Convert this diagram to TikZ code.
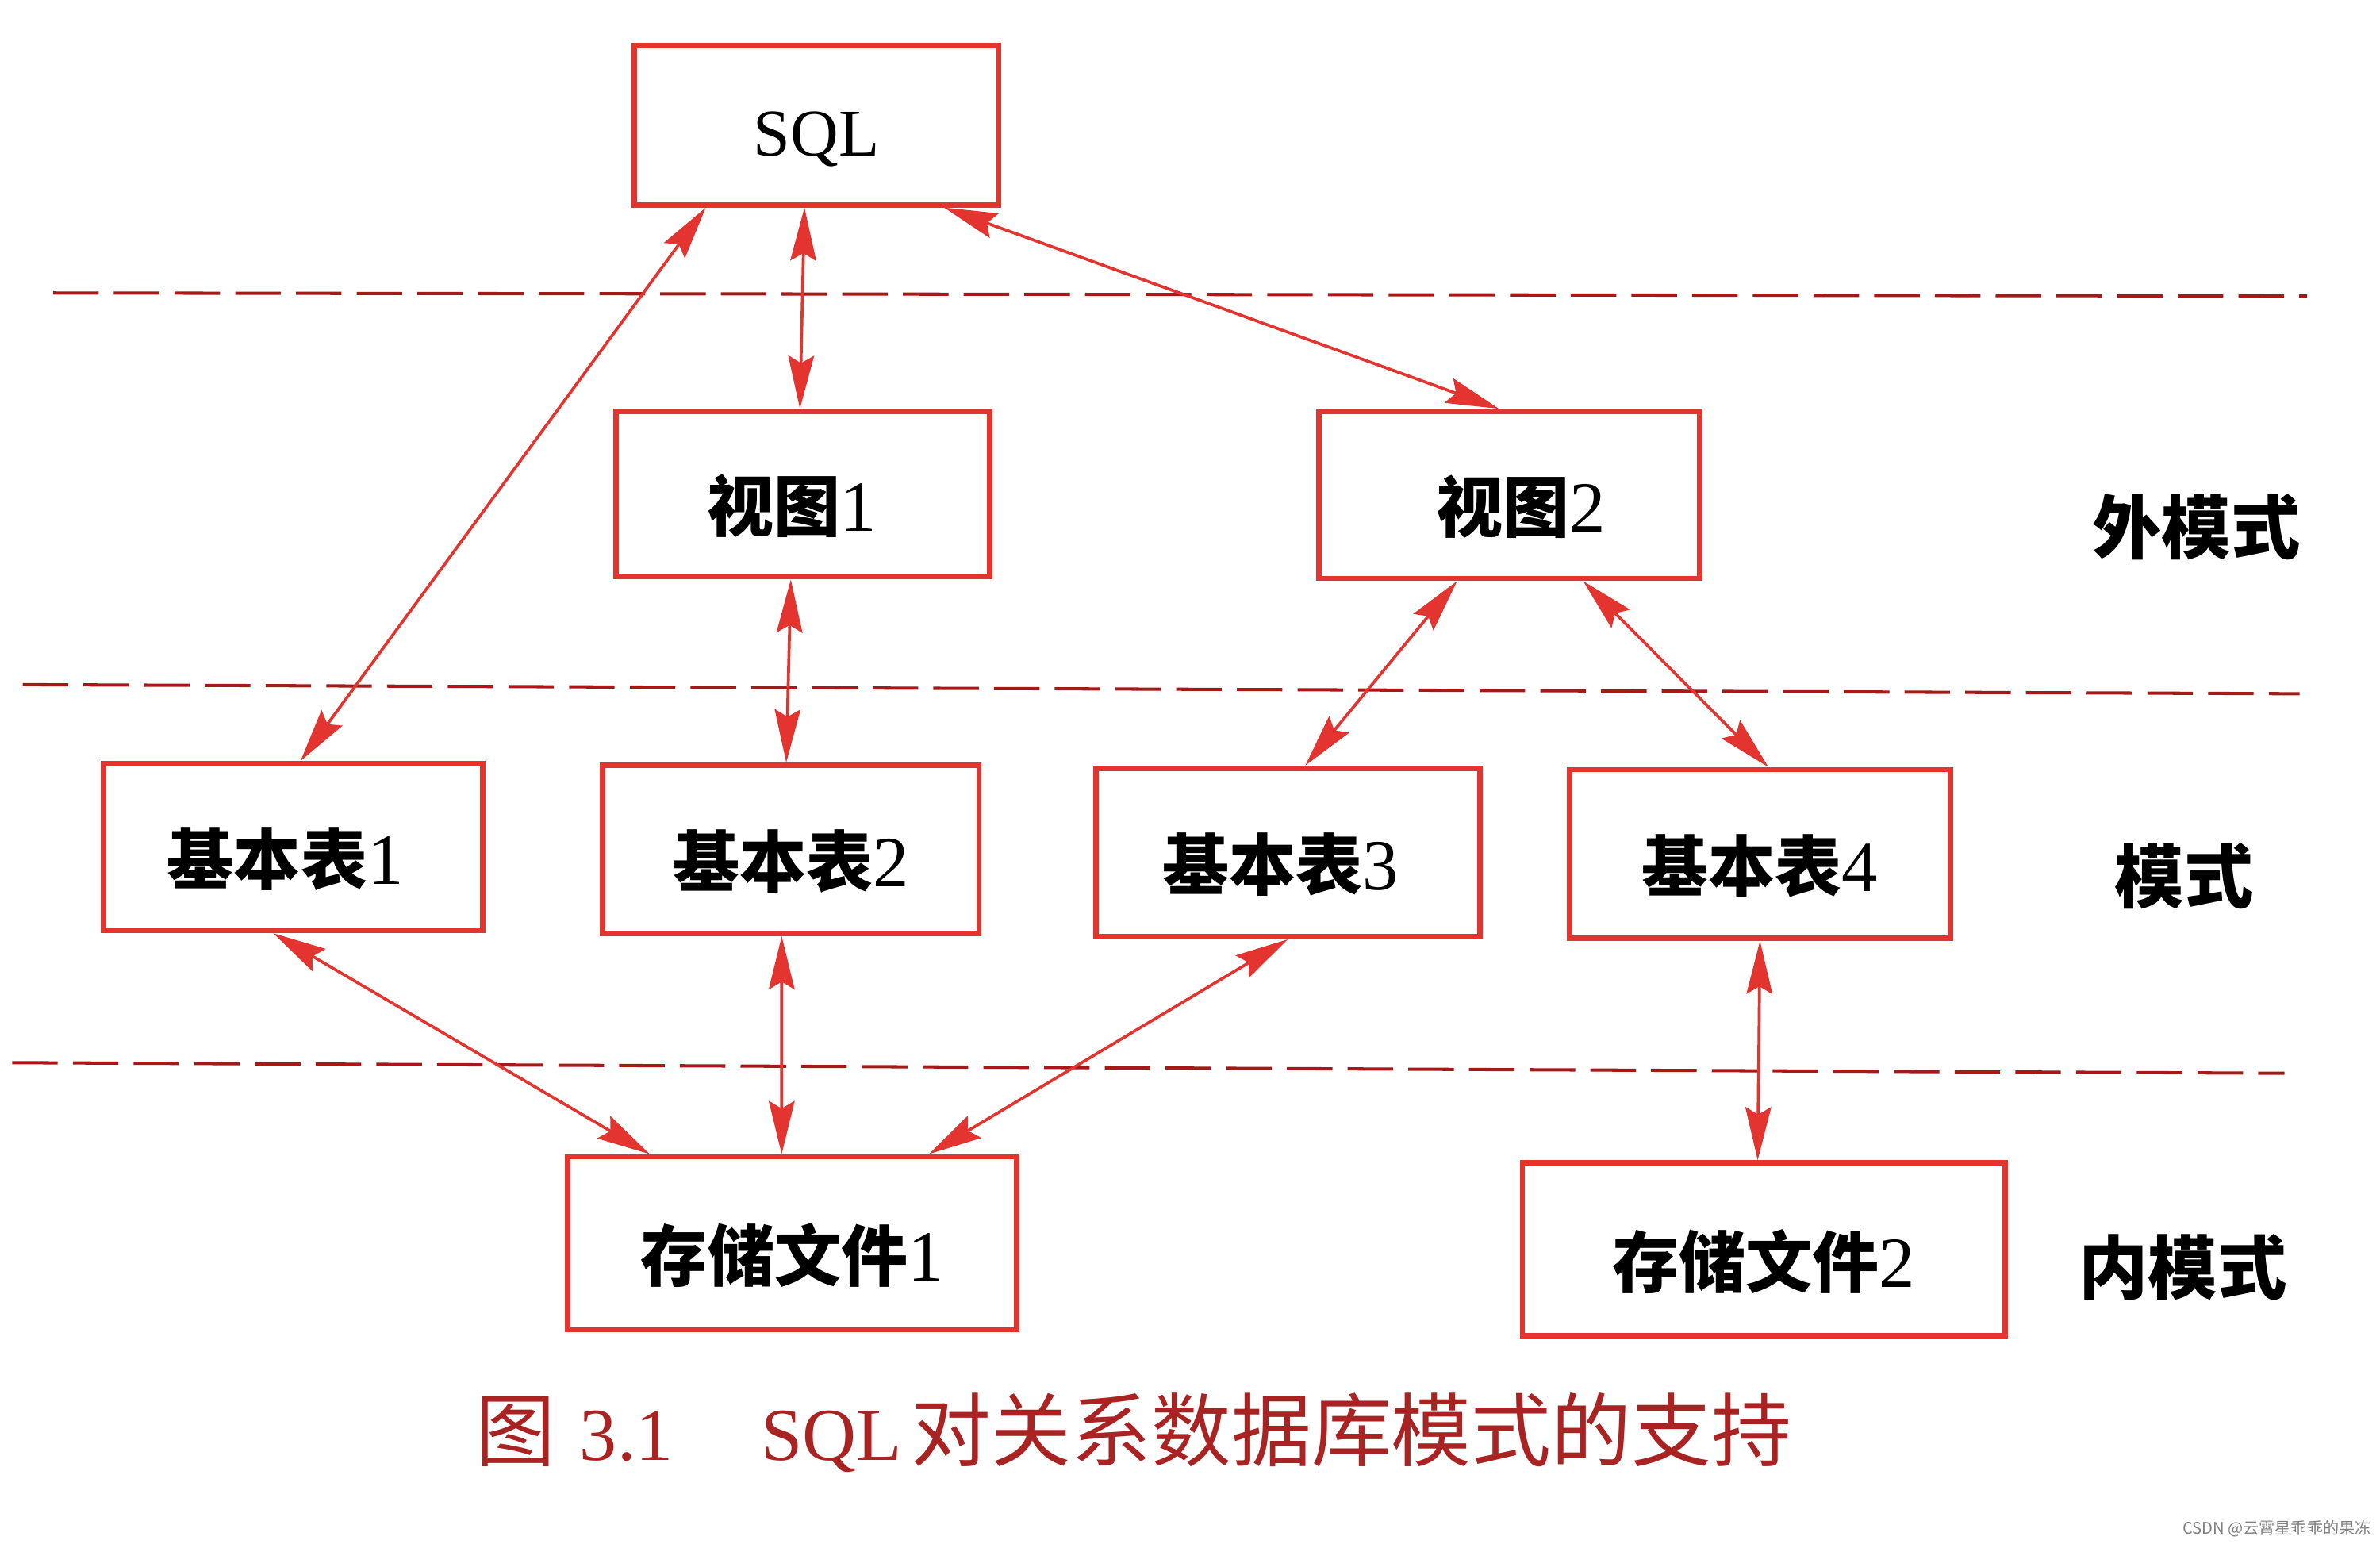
\documentclass[tikz,border=0pt]{standalone}
\usepackage{fontspec}
\setmainfont{Liberation Serif}
\newfontfamily\cjk{Noto Sans CJK SC}
\usetikzlibrary{arrows.meta}
\definecolor{boxred}{RGB}{228,52,48}
\definecolor{dashred}{RGB}{165,25,25}
\definecolor{capred}{RGB}{170,35,35}
\newcommand{\cj}[1]{{\cjk\bfseries\fontsize{25}{30}\selectfont #1}}
\newcommand{\lt}[1]{{\fontsize{27}{30}\selectfont #1}}
\newcommand{\dn}[1]{\raisebox{-0.16cm}[\height][\depth]{#1}}
\begin{document}
\begin{tikzpicture}[x=0.02cm,y=-0.02cm,
  box/.style={draw=boxred, line width=2pt, fill=white, inner sep=0pt},
  lbl/.style={inner sep=0pt, font=\cjk\bfseries\fontsize{26}{30}\selectfont},
  arr/.style={draw=boxred, line width=1.1pt,
    {Stealth[length=7mm,width=3.4mm,inset=1mm]}-{Stealth[length=7mm,width=3.4mm,inset=1mm]}},
  dline/.style={draw=dashred, line width=1.2pt, dash pattern=on 0.6cm off 0.2cm}]
\useasboundingbox[fill=white] (0,0) rectangle (1568,1017);

% dashed layer separators
\draw[dline] (35,193) -- (1520,195);
\draw[dline] (15,451) -- (1515,457);
\draw[dline] (8,700) -- (1505,707);

% boxes
\node[box, minimum width=4.8cm, minimum height=2.1cm] (sql) at (538,82.5) {\raisebox{-0.18cm}[\height][\depth]{\fontsize{25}{28}\selectfont SQL}};
\node[box, minimum width=4.92cm, minimum height=2.18cm] (v1) at (529,325.5) {\dn{\hspace{-0.3cm}\cj{视图}\lt{1}}};
\node[box, minimum width=5.02cm, minimum height=2.2cm] (v2) at (994.5,326) {\dn{\hspace{0.3cm}\cj{视图}\lt{2}}};
\node[box, minimum width=5.0cm, minimum height=2.2cm] (b1) at (193,558) {\dn{\hspace{-0.2cm}\cj{基本表}\lt{1}}};
\node[box, minimum width=4.96cm, minimum height=2.22cm] (b2) at (521,559.5) {\dn{\cj{基本表}\lt{2}}};
\node[box, minimum width=5.06cm, minimum height=2.22cm] (b3) at (848.5,561.5) {\dn{\hspace{-0.2cm}\cj{基本表}\lt{3}}};
\node[box, minimum width=5.02cm, minimum height=2.22cm] (b4) at (1159.5,562.5) {\dn{\cj{基本表}\lt{4}}};
\node[box, minimum width=5.92cm, minimum height=2.28cm] (f1) at (522,819) {\dn{\cj{存储文件}\lt{1}}};
\node[box, minimum width=6.36cm, minimum height=2.28cm] (f2) at (1162,823) {\dn{\cj{存储文件}\lt{2}}};

% layer labels
\node[lbl] (lext) at (1447,347) {外模式};
\node[lbl] (lcon) at (1439,577) {模式};
\node[lbl] (lint) at (1438,835) {内模式};

% connectors
\draw[arr] ([xshift=-1.46cm]sql.south) -- ([xshift=0.1cm]b1.north);
\draw[arr] ([xshift=-0.16cm]sql.south) -- ([xshift=-0.04cm]v1.north);
\draw[arr] ([xshift=1.68cm]sql.south) -- ([xshift=-0.14cm]v2.north);
\draw[arr] ([xshift=-0.16cm]v1.south) -- ([xshift=-0.06cm]b2.north);
\draw[arr] ([xshift=-0.69cm]v2.south) -- ([xshift=0.23cm]b3.north);
\draw[arr] ([xshift=0.97cm]v2.south) -- ([xshift=0.11cm]b4.north);
\draw[arr] ([xshift=-0.26cm]b1.south) -- ([xshift=-1.88cm]f1.north);
\draw[arr] ([xshift=-0.12cm]b2.south) -- ([xshift=-0.14cm]f1.north);
\draw[arr] ([xshift=0cm]b3.south) -- ([xshift=1.8cm]f1.north);
\draw[arr] ([xshift=0cm]b4.south) -- ([xshift=-0.08cm]f2.north);

% caption
\node[anchor=base west, inner sep=0pt, text=capred] (cap) at (313,962)
  {{\cjk\fontsize{30}{34}\selectfont 图}\hspace{0.32cm}{\fontsize{28}{34}\selectfont 3.1}\hspace{1.16cm}{\fontsize{28}{34}\selectfont SQL}\hspace{0.12cm}{\cjk\fontsize{30}{34}\selectfont 对关系数据库模式的支持}};

% watermark
\node[inner sep=0pt, text=gray, font=\cjk\fontsize{6}{7}\selectfont] (wm) at (1500,1007) {CSDN @云霄星乖乖的果冻};
\end{tikzpicture}
\end{document}
